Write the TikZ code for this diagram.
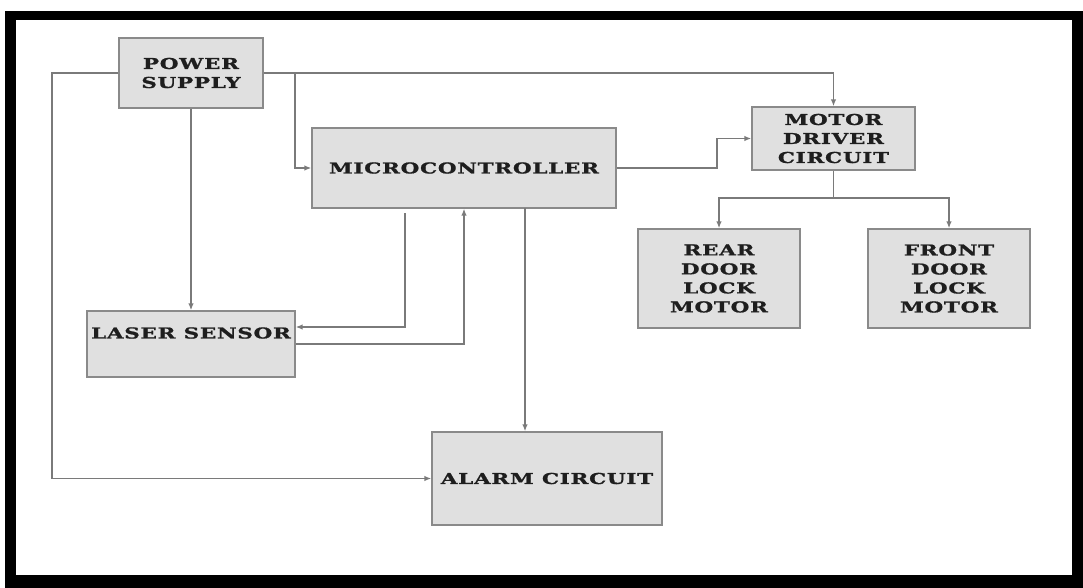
\documentclass[tikz,border=0pt]{standalone}
\usepackage{fontspec}
\usetikzlibrary{arrows.meta}
\newfontfamily\boxfont[FakeStretch=1.43,LetterSpace=5,FakeBold=1.2]{DejaVu Serif Bold}
\definecolor{linegray}{HTML}{7A7A7A}
\definecolor{boxfill}{HTML}{E0E0E0}
\definecolor{boxedge}{HTML}{8A8A8A}
\definecolor{textcol}{HTML}{1E1E1E}
\begin{document}
\begin{tikzpicture}[x=1pt,y=-1pt,
  blk/.style={draw=boxedge,fill=boxfill,line width=1.3pt,inner sep=0pt,align=center,
    text=textcol,font=\boxfont\fontsize{15}{19}\selectfont},
  lbl/.style={inner sep=0pt,align=center,text=textcol,font=\boxfont\fontsize{15}{19}\selectfont},
  conn/.style={draw=linegray,line width=1.4pt},
  arr/.style={conn,-{Latex[length=7pt,width=5.5pt]}}]
\useasboundingbox (0,0) rectangle (1083,588);
% frame
\fill[black] (5,11) rectangle (1083,588);
\fill[white] (16,20) rectangle (1072,575);
% blocks
\node[blk,minimum width=144,minimum height=70] (ps) at (191,73) {POWER\\SUPPLY};
\node[blk,minimum width=304,minimum height=80] (mc) at (464,168) {MICROCONTROLLER};
\node[blk,minimum width=163,minimum height=63] (md) at (833.5,138.5) {MOTOR\\DRIVER\\CIRCUIT};
\node[blk,minimum width=162,minimum height=99] (rear) at (719,278.5) {REAR\\DOOR\\LOCK\\MOTOR};
\node[blk,minimum width=162,minimum height=99] (front) at (949,278.5) {FRONT\\DOOR\\LOCK\\MOTOR};
\node[blk,minimum width=208,minimum height=66] (laser) at (191,344) {};
\node[lbl] (lasertext) at (191,333) {LASER SENSOR};
\node[blk,minimum width=230,minimum height=93] (alarm) at (547,478.5) {ALARM CIRCUIT};
% helper coordinates
\coordinate (lc) at (52,478.5);
\coordinate (j1) at (295,73);
\coordinate (mk) at (717,168);
\coordinate (mb) at (833.5,198);
\coordinate (ms) at (405,213);
\coordinate (ma) at (525,208);
% connectors
\draw[arr] (ps.west) -| (lc) -- (alarm.west);
\draw[arr] (ps.south) -- (laser.north);
\draw[arr] (ps.east) -| (md.north);
\draw[arr] (j1) |- (mc.west);
\draw[arr] (mc.east) -- (mk) |- (md.west);
\draw[conn] (md.south) -- (mb);
\draw[arr] (mb) -| (rear.north);
\draw[arr] (mb) -| (front.north);
\draw[arr] (ms) |- ([yshift=17pt]laser.east);
\draw[arr] (laser.east) -| (mc.south);
\draw[arr] (ma) -- (ma |- alarm.north);
\end{tikzpicture}
\end{document}
